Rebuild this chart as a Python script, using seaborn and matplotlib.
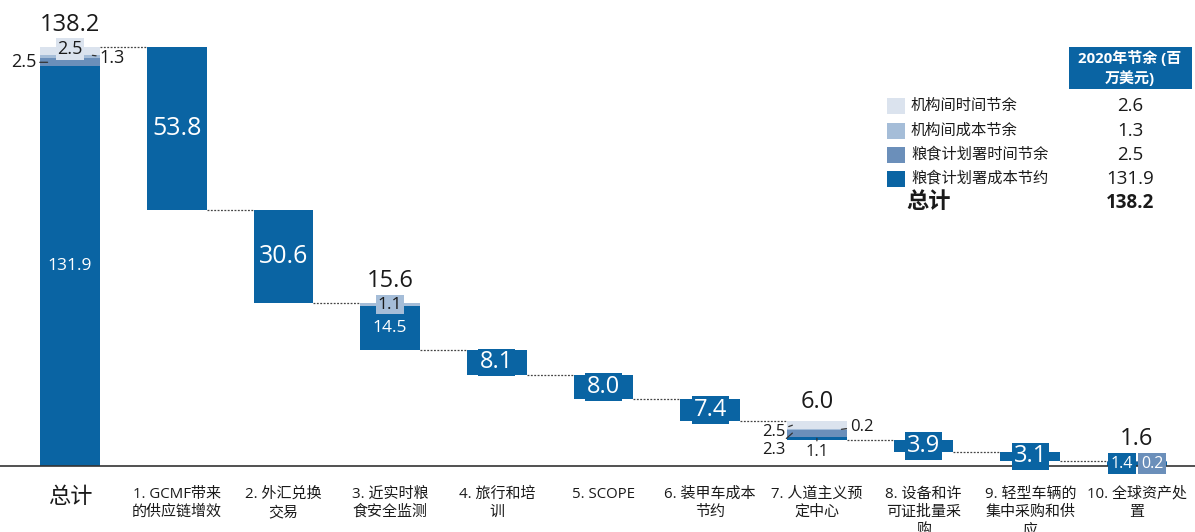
import matplotlib
matplotlib.use("Agg")
import matplotlib.pyplot as plt
from matplotlib.patches import Rectangle
import numpy as np
import seaborn as sns

sns.set_theme(style="white")
plt.rcParams['font.family'] = ['Open Sans', 'Noto Sans CJK SC']

# ---- data ----
categories = ["总计", "1. GCMF带来\n的供应链增效", "2. 外汇兑换\n交易", "3. 近实时粮\n食安全监测",
              "4. 旅行和培\n训", "5. SCOPE", "6. 装甲车成本\n节约", "7. 人道主义预\n定中心",
              "8. 设备和许\n可证批量采\n购", "9. 轻型车辆的\n集中采购和供\n应", "10. 全球资产处\n置"]
wfp_cost = [131.9, 53.8, 30.6, 14.5, 8.1, 8.0, 7.4, 1.1, 3.9, 3.1, 1.4]
wfp_time = [2.5, 0, 0, 0, 0, 0, 0, 2.3, 0, 0, 0.2]
ia_cost = [1.3, 0, 0, 1.1, 0, 0, 0, 0.2, 0, 0, 0]
ia_time = [2.5, 0, 0, 0, 0, 0, 0, 2.5, 0, 0, 0]
shown_totals = [138.2, 53.8, 30.6, 15.6, 8.1, 8.0, 7.4, 6.0, 3.9, 3.1, 1.6]

legend_labels = ["机构间时间节余", "机构间成本节余", "粮食计划署时间节余", "粮食计划署成本节约"]
legend_values = ["2.6", "1.3", "2.5", "131.9"]
grand_total = "138.2"
header = "2020年节余 (百\n万美元)"

DARK = "#0a64a3"
MED = "#6b8fba"
LIGHT = "#a5bdd8"
LIGHTEST = "#dbe3ee"
TXT = "#1a1a1a"
W = 0.56

layers = np.array([wfp_cost, wfp_time, ia_cost, ia_time])
colors = [DARK, MED, LIGHT, LIGHTEST]
stack = layers.sum(axis=0)

# waterfall bases
base = np.zeros(len(categories))
level = stack[0]
for i in range(1, len(categories)):
    level -= stack[i]
    base[i] = max(level, 0)

fig = plt.figure(figsize=(11.95, 5.32), dpi=100)
ax = fig.add_axes([0, 66 / 532, 1, 466 / 532])

bottom = base.copy()
seg_bottoms = []
for vals, col in zip(layers, colors):
    seg_bottoms.append(bottom.copy())
    sns.barplot(x=categories, y=vals, bottom=bottom, color=col, saturation=1,
                width=W, linewidth=0, errorbar=None, ax=ax)
    bottom = bottom + vals
tops = bottom

ax.set_xlim(-70 / 106.7, (1195 - 70) / 106.7)
ax.set_ylim(0, 466 / 3.032)
for s in ["top", "left", "right"]:
    ax.spines[s].set_visible(False)
ax.spines["bottom"].set_color("#333333")
ax.spines["bottom"].set_linewidth(1.2)
ax.set_yticks([])
ax.set_xlabel("")
ax.set_ylabel("")
ax.set_xticks(range(len(categories)))
ax.set_xticklabels(categories, fontsize=10.8, color=TXT, linespacing=1.3)
ax.tick_params(axis="x", length=0, pad=15)
ax.get_xticklabels()[0].set_fontsize(16)

# connectors
for i in range(len(categories) - 1):
    lv = tops[i + 1]
    ax.plot([i + W / 2, i + 1 - W / 2], [lv, lv], color="#444444", lw=0.9,
            ls=(0, (1.5, 1.2)), zorder=1)


def mid(layer, i):
    return seg_bottoms[layer][i] + layers[layer][i] / 2


# totals above stacked bars
for i in [0, 3, 7, 10]:
    ax.annotate(f"{shown_totals[i]:.1f}", xy=(i, tops[i]), xytext=(0, 7 if i != 7 else 5),
                textcoords="offset points", ha="center", va="bottom", fontsize=17, color=TXT)

# big white labels in bars 1, 2
for i in [1, 2]:
    ax.text(i, mid(0, i), f"{wfp_cost[i]:.1f}", ha="center", va="center",
            fontsize=18, color="white")

# boxed labels on small bars
for i in [4, 5, 6, 8, 9]:
    ax.text(i, mid(0, i), f"{wfp_cost[i]:.1f}", ha="center", va="center", fontsize=17,
            color="white", bbox=dict(boxstyle="square,pad=0.08", fc=DARK, ec="none"))

# total bar details
ax.text(0, mid(0, 0), f"{wfp_cost[0]:.1f}", ha="center", va="center", fontsize=12.5, color="white")
ax.text(0, mid(3, 0) + 0.6, f"{ia_time[0]:.1f}", ha="center", va="center", fontsize=13, color=TXT,
        bbox=dict(boxstyle="square,pad=0.1", fc=LIGHTEST, ec="none"))
arrow = dict(arrowstyle="-", lw=0.9, color="#333333", shrinkA=0, shrinkB=0)
ax.annotate(f"{wfp_time[0]:.1f}", xy=(0 - W / 2 + 0.07, mid(1, 0)), xytext=(-8, 0),
            textcoords="offset points", ha="right", va="center", fontsize=13, color=TXT,
            arrowprops=arrow)
ax.annotate(f"{ia_cost[0]:.1f}", xy=(0 + W / 2 - 0.07, mid(2, 0) + 0.4), xytext=(5, -2),
            textcoords="offset points", ha="left", va="center", fontsize=13, color=TXT,
            arrowprops=arrow)

# bar 3 details
ax.text(3, mid(0, 3), f"{wfp_cost[3]:.1f}", ha="center", va="center", fontsize=12.5, color="white")
ax.text(3, mid(2, 3), f"{ia_cost[3]:.1f}", ha="center", va="center", fontsize=12.5, color=TXT,
        bbox=dict(boxstyle="square,pad=0.1", fc=LIGHT, ec="none"))

# bar 7 details
ax.annotate(f"{ia_time[7]:.1f}", xy=(7 - W / 2 + 0.05, mid(3, 7)), xytext=(-5, -5),
            textcoords="offset points", ha="right", va="center", fontsize=12, color=TXT,
            arrowprops=arrow)
ax.annotate(f"{wfp_time[7]:.1f}", xy=(7 - W / 2 + 0.05, mid(1, 7)), xytext=(-5, -12),
            textcoords="offset points", ha="right", va="center", fontsize=12, color=TXT,
            arrowprops=arrow)
ax.annotate(f"{wfp_cost[7]:.1f}", xy=(7, mid(0, 7)), xytext=(0, -10),
            textcoords="offset points", ha="center", va="center", fontsize=12, color=TXT,
            arrowprops=arrow)
ax.annotate(f"{ia_cost[7]:.1f}", xy=(7 + W / 2 - 0.05, mid(2, 7)), xytext=(6, 2),
            textcoords="offset points", ha="left", va="center", fontsize=12, color=TXT,
            arrowprops=arrow)

# bar 10 details
ax.text(10 - W / 4, mid(0, 10), f"{wfp_cost[10]:.1f}", ha="center", va="center", fontsize=11.5,
        color="white", bbox=dict(boxstyle="square,pad=0.15", fc=DARK, ec="none"))
ax.text(10 + W / 4, mid(0, 10), f"{wfp_time[10]:.1f}", ha="center", va="center", fontsize=11.5,
        color="white", bbox=dict(boxstyle="square,pad=0.15", fc=MED, ec="none"))


# ---- legend table (figure pixel coords) ----
def px(x, y):
    return x / 1195, 1 - y / 532


hx, hy = px(1069, 89)
fig.add_artist(Rectangle((hx, hy), 123 / 1195, 42 / 532, transform=fig.transFigure,
                         fc=DARK, ec="none"))
fig.text(*px(1130, 68), header, ha="center", va="center", fontsize=10.8, fontweight="bold",
         color="white", linespacing=1.25)

row_y = [106, 131, 155, 179]
for yy, lab, val, col in zip(row_y, legend_labels, legend_values, colors[::-1]):
    sx, sy = px(887, yy + 8)
    fig.add_artist(Rectangle((sx, sy), 18 / 1195, 16 / 532, transform=fig.transFigure,
                             fc=col, ec="none"))
    fig.text(*px(911, yy), lab, ha="left", va="center", fontsize=11, color=TXT)
    fig.text(*px(1130, yy), val, ha="center", va="center", fontsize=13.5, color=TXT)

fig.text(*px(906, 203), "总计", ha="left", va="center", fontsize=16, fontweight="bold", color=TXT)
fig.text(*px(1130, 203), grand_total, ha="center", va="center", fontsize=13.5,
         fontweight="bold", color=TXT)

fig.savefig("out.png", dpi=100, facecolor="white")
